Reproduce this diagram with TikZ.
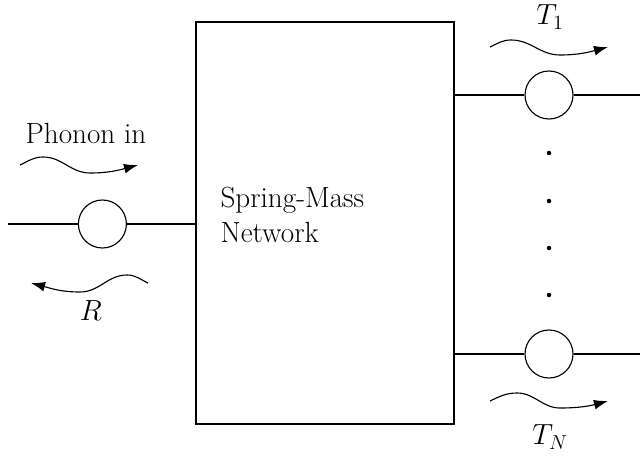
\documentclass[tikz,border=0pt]{standalone}
\usepackage{amsmath}
\usetikzlibrary{arrows.meta}

\begin{document}
\begin{tikzpicture}[thick, font=\huge,
        port/.style={circle, draw, minimum size=1.2cm, inner sep=0pt},
        wave/.style={-{Latex[length=10pt, width=7pt]}}]
                \useasboundingbox (0, 0) rectangle (16, 11.425);
                \node[draw, minimum width=6.45cm, minimum height=10.05cm] (net) at (8.125, 5.85) {};
                \node[anchor=west, align=left, inner sep=0pt] (netlabel) at (5.5, 6.06) {Spring-Mass\\Network};
                % input side
                \node[port] (inport) at (2.56, 5.825) {};
                \coordinate (inend) at (0.2, 5.825);
                \draw (inend) -- (inport.west);
                \draw (inport.east) -- (inport.east -| net.west);
                \node (phonon) at (2.15, 8.1) {Phonon in};
                \draw[wave] (0.5, 7.3) to[out=25, in=180] ++(0.575, 0.2) to[out=0, in=180] ++(1.175, -0.4) to[out=0, in=195] ++(1.2, 0.2);
                \draw[wave] (3.7, 4.35) to[out=155, in=0] ++(-0.525, 0.2) to[out=180, in=0] ++(-1.175, -0.425) to[out=180, in=-15] ++(-1.225, 0.225);
                \node (refl) at (2.27, 3.65) {$R$};
                % output side
                \node[port] (outone) at (13.725, 9.05) {};
                \node[port] (outlast) at (13.725, 2.575) {};
                \coordinate (oneend) at (16, 9.05);
                \coordinate (lastend) at (16, 2.575);
                \draw (outone.west -| net.east) -- (outone.west);
                \draw (outone.east) -- (oneend);
                \draw (outlast.west -| net.east) -- (outlast.west);
                \draw (outlast.east) -- (lastend);
                \foreach \y in {7.6, 6.4, 5.225, 4.05}
                    \fill (13.725, \y) circle (1.6pt);
                \draw[wave] (12.25, 10.25) to[out=25, in=180] ++(0.525, 0.175) to[out=0, in=180] ++(1.225, -0.375) to[out=0, in=195] ++(1.2, 0.2);
                \node (tone) at (13.75, 11.0) {$T_1$};
                \draw[wave] (12.25, 1.4) to[out=25, in=180] ++(0.675, 0.2) to[out=0, in=180] ++(1.075, -0.375) to[out=0, in=195] ++(1.2, 0.175);
                \node (tlast) at (13.75, 0.5) {$T_N$};
            \end{tikzpicture}
\end{document}
